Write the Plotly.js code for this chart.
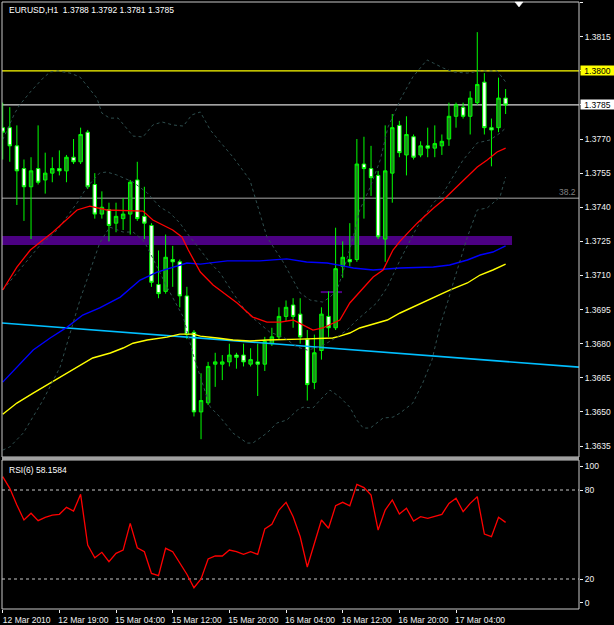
<!DOCTYPE html>
<html><head><meta charset="utf-8">
<script src="https://cdn.plot.ly/plotly-3.0.1.min.js"></script>
<style>html,body{margin:0;padding:0;background:#000;}#chart{width:614px;height:625px;}</style>
</head><body><div id="chart"></div>
<script>
// ---- EURUSD H1 bars (index 0 = 12 Mar 2010 11:00, index 71 = 17 Mar 2010 11:00)
const bars = [0,1,2,3,4,5,6,7,8,9,10,11,12,13,14,15,16,17,18,19,20,21,22,23,24,25,26,27,28,29,30,31,32,33,34,35,
  36,37,38,39,40,41,42,43,44,45,46,47,48,49,50,51,52,53,54,55,56,57,58,59,60,61,62,63,64,65,66,67,68,69,70,71];
const openP = [1.3775,1.3775,1.3767,1.3757,1.3749,1.3757,1.3752,1.3755,1.3757,1.3756,1.3762,1.3760,1.3773,1.3750,1.3737,1.3739,1.3733,1.3735,
  1.3737,1.3752,1.3736,1.3732,1.3706,1.3703,1.3717,1.3716,1.3701,1.3685,1.3650,1.3654,1.3671,1.3671,1.3672,1.3675,1.3675,1.3671,
  1.3672,1.3671,1.3680,1.3683,1.3692,1.3697,1.3693,1.3682,1.3663,1.3677,1.3692,1.3687,1.3714,1.3717,1.3717,1.3759,1.3757,1.3754,
  1.3726,1.3755,1.3776,1.3763,1.3771,1.3763,1.3767,1.3766,1.3767,1.3770,1.3780,1.3784,1.3780,1.3786,1.3795,1.3775,1.3775,1.3788];
const highP = [1.3786,1.3784,1.3776,1.3761,1.3762,1.3776,1.3764,1.3762,1.3765,1.3763,1.3770,1.3775,1.3774,1.3755,1.3747,1.3742,1.3742,1.3744,
  1.3752,1.3760,1.3749,1.3733,1.3721,1.3728,1.3723,1.3717,1.3705,1.3686,1.3667,1.3672,1.3676,1.3675,1.3680,1.3676,1.3680,1.3678,
  1.3680,1.3683,1.3687,1.3696,1.3699,1.3700,1.3700,1.3686,1.3684,1.3696,1.3703,1.3731,1.3725,1.3733,1.3770,1.3771,1.3767,1.3756,
  1.3776,1.3781,1.3778,1.3780,1.3772,1.3769,1.3775,1.3776,1.3772,1.3786,1.3786,1.3786,1.3791,1.3817,1.3799,1.3779,1.3797,1.3792];
const lowP = [1.3761,1.3760,1.3741,1.3734,1.3726,1.3750,1.3746,1.3751,1.3754,1.3751,1.3759,1.3759,1.3748,1.3735,1.3735,1.3725,1.3729,1.3730,
  1.3728,1.3734,1.3726,1.3705,1.3700,1.3702,1.3705,1.3696,1.3682,1.3648,1.3638,1.3653,1.3661,1.3664,1.3670,1.3669,1.3670,1.3670,
  1.3657,1.3668,1.3679,1.3682,1.3690,1.3687,1.3680,1.3655,1.3660,1.3673,1.3683,1.3686,1.3709,1.3714,1.3716,1.3735,1.3745,1.3726,
  1.3716,1.3742,1.3762,1.3754,1.3761,1.3762,1.3762,1.3762,1.3763,1.3767,1.3775,1.3779,1.3772,1.3785,1.3772,1.3758,1.3773,1.3781];
const closeP = [1.3773,1.3767,1.3756,1.3749,1.3756,1.3751,1.3755,1.3757,1.3756,1.3762,1.3760,1.3772,1.3749,1.3737,1.3740,1.3732,1.3736,1.3737,
  1.3751,1.3735,1.3733,1.3707,1.3702,1.3718,1.3716,1.3701,1.3684,1.3650,1.3655,1.3670,1.3672,1.3672,1.3675,1.3674,1.3672,1.3673,
  1.3671,1.3681,1.3683,1.3692,1.3696,1.3692,1.3683,1.3662,1.3676,1.3693,1.3687,1.3713,1.3718,1.3716,1.3759,1.3757,1.3753,1.3727,
  1.3756,1.3775,1.3764,1.3772,1.3762,1.3767,1.3766,1.3768,1.3769,1.3780,1.3785,1.3780,1.3788,1.3794,1.3775,1.3774,1.3788,1.3785];

// ---- Bollinger bands (x in bar units)
const bbUpX = [0,1.7,2.4,3.9,5.7,6.7,7.8,9.5,10.9,12.0,13.3,14.0,15.1,16.3,17.3,18.4,19.8,21.2,22.5,24.0,25.5,26.7,27.9,29.3,30.7,32.5,34.9,35.9,37.3,39.6,
  40.6,42.0,43.4,45.2,46.2,47.2,48.0,49.5,50.4,51.9,53.3,54.4,55.7,56.1,57.9,59.9,60.8,62.2,63.6,65.6,67.4,69.8,70.6,71];
const bbUp = [1.37697,1.37814,1.37850,1.37907,1.37968,1.37995,1.37999,1.37990,1.37973,1.37929,1.37880,1.37814,1.37792,1.37792,1.37753,1.37713,1.37709,1.37762,1.37775,1.37762,
  1.37757,1.37806,1.37819,1.37740,1.37687,1.37621,1.37520,1.37419,1.37269,1.37159,1.37102,1.37023,1.36992,1.36983,1.37005,1.37036,1.37111,1.37269,1.37388,1.37489,
  1.37608,1.37753,1.37841,1.37872,1.37973,1.38048,1.38034,1.38012,1.37995,1.37990,1.37999,1.37999,1.37968,1.37951];
const bbMidX = [0,5.3,7.7,10.5,11.9,13.7,14.7,16.1,18.4,20.4,22.2,23.6,25.0,26.0,27.9,29.3,30.7,32.5,34.5,37.7,39.6,41.6,43.0,44.8,47.2,48.6,50.0,52.8,54.3,56.1,
  58.5,60.8,62.2,65.0,67.0,68.8,70.2,71];
const bbMid = [1.37036,1.37234,1.37300,1.37419,1.37489,1.37551,1.37555,1.37542,1.37511,1.37463,1.37401,1.37375,1.37331,1.37287,1.37212,1.37155,1.37111,1.37023,1.36935,1.36851,
  1.36829,1.36785,1.36772,1.36785,1.36829,1.36860,1.36904,1.36979,1.37049,1.37168,1.37313,1.37419,1.37463,1.37608,1.37683,1.37696,1.37726,1.37748];
const bbLoX = [0,1.0,2.9,5.7,8.1,9.5,10.9,13.7,15.1,17.0,18.4,19.8,20.4,23.2,25.5,26.9,29.3,30.7,32.5,34.5,35.3,37.3,38.7,40.1,41.6,42.4,43.8,44.8,46.2,47.6,
  49.0,50.0,50.9,51.9,53.7,55.1,56.1,57.9,59.3,60.6,61.7,62.9,63.6,65.6,67.0,68.4,70.2,71];
const bbLo = [1.36332,1.36346,1.36407,1.36552,1.36697,1.36847,1.36992,1.37243,1.37313,1.37291,1.37291,1.37256,1.37225,1.37049,1.36917,1.36750,1.36521,1.36477,1.36407,1.36363,
  1.36363,1.36407,1.36451,1.36464,1.36508,1.36521,1.36517,1.36552,1.36596,1.36565,1.36521,1.36464,1.36429,1.36429,1.36473,1.36477,1.36495,1.36539,1.36627,1.36728,
  1.36873,1.36992,1.37067,1.37269,1.37388,1.37397,1.37445,1.37533];

// ---- moving averages
const redX = [0,2.0,3.9,7.1,10.5,12.3,14.7,18.4,19.8,21.2,24.0,25.3,26.2,27.9,29.7,33.1,35.3,37.3,39.2,41.0,42.4,43.8,45.2,47.6,49.0,50.9,52.3,53.7,55.1,56.1,
  58.5,60.8,62.2,63.6,65.6,67.0,68.4,69.8,71];
const redMA = [1.37036,1.37137,1.37212,1.37291,1.37388,1.37405,1.37388,1.37383,1.37383,1.37344,1.37300,1.37269,1.37212,1.37115,1.37058,1.36979,1.36917,1.36895,1.36895,1.36904,
  1.36882,1.36860,1.36869,1.36904,1.36979,1.37045,1.37093,1.37124,1.37212,1.37251,1.37330,1.37396,1.37432,1.37475,1.37533,1.37577,1.37608,1.37643,1.37660];
const blueX = [0,2.0,4.3,6.7,9.1,11.3,13.7,16.6,19.4,21.8,24.0,26.0,27.9,31.7,36.3,40.1,42.9,45.8,48.0,49.5,52.3,56.1,60.8,63.1,65.6,67.4,69.2,71];
const blueMA = [1.36631,1.36697,1.36772,1.36825,1.36873,1.36926,1.36957,1.37005,1.37080,1.37115,1.37137,1.37155,1.37150,1.37164,1.37164,1.37173,1.37159,1.37155,1.37142,1.37133,
  1.37124,1.37133,1.37137,1.37146,1.37168,1.37190,1.37203,1.37230];
const yellowX = [0,2.0,4.3,6.7,9.1,11.3,12.7,15.2,17.0,18.4,20.4,23.2,25.0,26.9,27.9,30.3,32.5,34.9,37.3,42.0,46.6,47.6,49.0,50.4,52.3,54.3,56.1,58.5,60.8,63.1,
  65.6,67.4,69.2,71];
const yellowMA = [1.36490,1.36539,1.36583,1.36627,1.36671,1.36715,1.36737,1.36759,1.36781,1.36802,1.36816,1.36829,1.36842,1.36842,1.36833,1.36825,1.36816,1.36812,1.36816,1.36820,
  1.36825,1.36833,1.36847,1.36869,1.36886,1.36904,1.36935,1.36970,1.37005,1.37036,1.37067,1.37102,1.37124,1.37150];
// cyan trend line (end points)
const trendX = [-0.1, 81.36];
const trendY = [1.36891, 1.36697];

// ---- horizontal objects
const levelYellow = 1.3800;
const levelBid = 1.3785;
const levelFib382 = 1.3744;
const zoneLow = 1.37234, zoneHigh = 1.37274, zoneEndBar = 71.9;
const smallLineBars = [44.9, 47.9], smallLineY = 1.37027;

// ---- RSI(6)
const rsi = [89.0,81.1,69.9,59.8,64.3,59.3,61.6,63.1,63.6,68.3,65.8,77.1,42.9,34.3,38.0,31.7,37.3,39.5,57.5,41.1,
  38.4,23.8,22.2,40.7,38.4,30.6,23.2,14.1,20.0,33.5,35.5,35.5,39.5,38.4,36.6,38.4,36.6,53.7,56.9,66.5,
  71.7,62.0,48.5,28.1,44.1,59.8,54.2,69.4,71.7,69.4,83.8,81.6,76.6,53.0,66.5,73.3,63.8,67.7,59.1,62.0,
  60.9,62.0,63.6,71.0,74.4,65.4,71.0,75.5,50.3,48.5,61.6,58.16];
const rsiLevels = [80, 20];

// ---- ticks
const xTickVals = [0,8,16,24,32,40,48,56,64];
const xTickText = ['12 Mar 2010','12 Mar 19:00','15 Mar 04:00','15 Mar 12:00','15 Mar 20:00','16 Mar 04:00','16 Mar 12:00','16 Mar 20:00','17 Mar 04:00'];
const priceTicks = [1.3635,1.3650,1.3665,1.3680,1.3695,1.3710,1.3725,1.3740,1.3755,1.3770,1.3785,1.3800,1.3815,1.3830];
const rsiTickVals = [96, 80, 20, 4];
const rsiTickText = ['100','80','20','0'];

// ---------------------------------------------------------------
const FONT = 'Liberation Sans, Arial, sans-serif';
const FS = 8.5;
const W = 614, H = 625, ML = 2, MR = 35, MT = 2, MB = 16;
const PW = W - ML - MR, PH = H - MT - MB;
const px2x = px => (px - ML) / PW;
const px2y = py => (H - MB - py) / PH;
const mainBottom = px2y(457), rsiTop = px2y(460);

const bbStyle = {color:'#2F4F4F', width:1, dash:'3px,3px'};
const traces = [
  {type:'scatter', mode:'lines', x:trendX, y:trendY, line:{color:'#00BFFF', width:1.6}, hoverinfo:'skip'},
  {type:'scatter', mode:'lines', x:yellowX, y:yellowMA, line:{color:'#FFFF00', width:1.4}, hoverinfo:'skip'},
  {type:'scatter', mode:'lines', x:blueX, y:blueMA, line:{color:'#0000FF', width:1.4}, hoverinfo:'skip'},
  {type:'scatter', mode:'lines', x:bbUpX, y:bbUp, line:bbStyle, hoverinfo:'skip'},
  {type:'scatter', mode:'lines', x:bbMidX, y:bbMid, line:bbStyle, hoverinfo:'skip'},
  {type:'scatter', mode:'lines', x:bbLoX, y:bbLo, line:bbStyle, hoverinfo:'skip'},
  {type:'scatter', mode:'lines', x:redX, y:redMA, line:{color:'#FF0000', width:1.3}, hoverinfo:'skip'},
  {type:'candlestick', x:bars, open:openP, high:highP, low:lowP, close:closeP,
   increasing:{line:{color:'#00FF00', width:1}, fillcolor:'#1E8C1E'},
   decreasing:{line:{color:'#00FF00', width:1}, fillcolor:'#FFFFFF'},
   whiskerwidth:0, hoverinfo:'skip'},
  {type:'scatter', mode:'lines', x:bars, y:rsi, yaxis:'y2', line:{color:'#FF0000', width:1.3}, hoverinfo:'skip'}
];

const shapes = [
  {type:'rect', layer:'below', xref:'x', yref:'y', x0:-1, x1:zoneEndBar, y0:zoneLow, y1:zoneHigh, fillcolor:'#4B0082', line:{width:0}},
  {type:'line', layer:'below', xref:'x', yref:'y', x0:smallLineBars[0], x1:smallLineBars[1], y0:smallLineY, y1:smallLineY, line:{color:'#4B0082', width:2}},
  {type:'line', layer:'below', xref:'paper', yref:'y', x0:0, x1:1, y0:levelFib382, y1:levelFib382, line:{color:'#707070', width:1.5}},
  {type:'line', layer:'below', xref:'paper', yref:'y', x0:0, x1:1, y0:levelYellow, y1:levelYellow, line:{color:'#FFFF00', width:1.2}},
  {type:'line', layer:'below', xref:'paper', yref:'y', x0:0, x1:1, y0:levelBid, y1:levelBid, line:{color:'#D8D8D8', width:1.2}},
  {type:'line', layer:'below', xref:'paper', yref:'y2', x0:0, x1:1, y0:rsiLevels[0], y1:rsiLevels[0], line:{color:'#C8C8C8', width:1, dash:'3px,3px'}},
  {type:'line', layer:'below', xref:'paper', yref:'y2', x0:0, x1:1, y0:rsiLevels[1], y1:rsiLevels[1], line:{color:'#C8C8C8', width:1, dash:'3px,3px'}},
  // frames
  {type:'rect', xref:'paper', yref:'paper', x0:0, x1:1, y0:mainBottom, y1:1, line:{color:'#C8C8C8', width:1}},
  {type:'rect', xref:'paper', yref:'paper', x0:0, x1:1, y0:0, y1:rsiTop, line:{color:'#C8C8C8', width:1}},
  {type:'rect', xref:'paper', yref:'paper', x0:0, x1:1, y0:rsiTop, y1:mainBottom, fillcolor:'#A0A0A0', line:{width:0}},
  // chart shift marker
  {type:'path', xref:'paper', yref:'paper', xsizemode:'pixel', ysizemode:'pixel', xanchor:px2x(519), yanchor:1,
   path:'M -4,0 L 4,0 L 0,-5 Z', fillcolor:'#FFFFFF', line:{color:'#FFFFFF', width:0.5}}
];

const annotations = [
  {xref:'paper', yref:'paper', x:px2x(6.5), y:px2y(10), xanchor:'left', yanchor:'middle', showarrow:false,
   text:'EURUSD,H1&nbsp;&nbsp;1.3788 1.3792 1.3781 1.3785', font:{family:FONT, size:FS, color:'#FFFFFF'}},
  {xref:'paper', yref:'paper', x:px2x(6.5), y:px2y(469.5), xanchor:'left', yanchor:'middle', showarrow:false,
   text:'RSI(6) 58.1584', font:{family:FONT, size:FS, color:'#FFFFFF'}},
  {xref:'paper', yref:'y', x:px2x(577), y:levelFib382, xanchor:'right', yanchor:'bottom', showarrow:false, borderpad:0,
   text:'38.2', font:{family:FONT, size:FS, color:'#808080'}},
  {xref:'paper', yref:'y', x:1, xshift:1, y:levelYellow, xanchor:'left', yanchor:'middle', showarrow:false,
   text:'1.3800', width:33, height:9, borderpad:0, bgcolor:'#FFFF00', font:{family:FONT, size:FS, color:'#000000'}},
  {xref:'paper', yref:'y', x:1, xshift:1, y:levelBid, xanchor:'left', yanchor:'middle', showarrow:false,
   text:'1.3785', width:33, height:9, borderpad:0, bgcolor:'#FFFFFF', font:{family:FONT, size:FS, color:'#000000'}}
];

const tickFont = {family:FONT, size:FS, color:'#F0F0F0'};
const layout = {
  width:W, height:H, margin:{l:ML, r:MR, t:MT, b:MB, pad:0},
  paper_bgcolor:'#000000', plot_bgcolor:'#000000', showlegend:false,
  xaxis:{domain:[0,1], anchor:'y2', range:[-0.1, 81.36], tickmode:'array', tickvals:xTickVals, ticktext:xTickText,
         ticks:'outside', ticklen:3, tickcolor:'#F0F0F0', tickfont:tickFont, ticklabelshift:24,
         showgrid:false, zeroline:false, showline:false, rangeslider:{visible:false}, fixedrange:true},
  yaxis:{domain:[mainBottom,1], anchor:'x', side:'right', range:[1.363017, 1.383026], tickmode:'array', tickvals:priceTicks,
         tickformat:'.4f', ticks:'outside', ticklen:3, tickcolor:'#F0F0F0', tickfont:tickFont,
         showgrid:false, zeroline:false, showline:false, fixedrange:true},
  yaxis2:{domain:[0,rsiTop], anchor:'x', side:'right', range:[-0.22, 100.22], tickmode:'array', tickvals:rsiTickVals, ticktext:rsiTickText,
         ticks:'outside', ticklen:3, tickcolor:'#F0F0F0', tickfont:tickFont,
         showgrid:false, zeroline:false, showline:false, fixedrange:true},
  shapes:shapes, annotations:annotations
};

Plotly.newPlot('chart', traces, layout, {staticPlot:true, displayModeBar:false});
</script>
</body></html>
